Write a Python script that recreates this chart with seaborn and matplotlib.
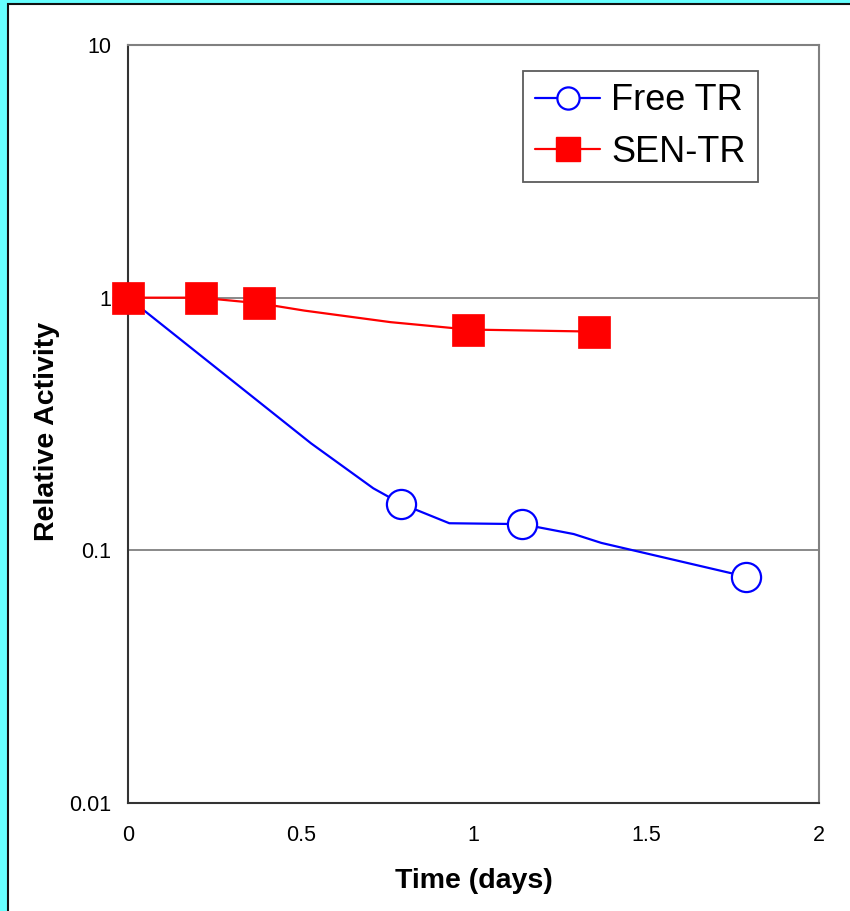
import numpy as np
import pandas as pd
import matplotlib
matplotlib.use("Agg")
import matplotlib.pyplot as plt
from matplotlib.lines import Line2D
from matplotlib.patches import Rectangle
import seaborn as sns

# Free TR: line vertices, markers only on the measured points
free_x = [0, 0.53, 0.71, 0.79, 0.93, 1.14, 1.29, 1.37, 1.79]
free_y = [1.0, 0.265, 0.176, 0.153, 0.128, 0.127, 0.116, 0.107, 0.0786]
free_marked = [0, 3, 5, 8]

# SEN-TR
sen_x = [0, 0.21, 0.38, 0.51, 0.76, 0.845, 0.984, 1.349]
sen_y = [1.0, 1.0, 0.95, 0.889, 0.80, 0.78, 0.748, 0.734]
sen_marked = [0, 1, 2, 6, 7]

x_ticks = [0, 0.5, 1, 1.5, 2]
x_tick_labels = ["0", "0.5", "1", "1.5", "2"]
y_ticks = [0.01, 0.1, 1, 10]
y_tick_labels = ["0.01", "0.1", "1", "10"]

free_df = pd.DataFrame({"Time": free_x, "Activity": free_y})
sen_df = pd.DataFrame({"Time": sen_x, "Activity": sen_y})

sns.set_style("white")
plt.rcParams["font.family"] = ["Liberation Sans", "DejaVu Sans"]
plt.rcParams["text.color"] = "black"
plt.rcParams["axes.labelcolor"] = "black"
plt.rcParams["xtick.labelcolor"] = "black"
plt.rcParams["ytick.labelcolor"] = "black"

fig = plt.figure(figsize=(8.5, 9.11), dpi=100)
fig.patch.set_facecolor("#66FFFF")
fig.patches.append(Rectangle((8 / 850, -0.05), 1.1, (911 - 4) / 911 + 0.05,
                             transform=fig.transFigure, facecolor="white",
                             edgecolor="#111111", linewidth=1.5, zorder=-10))

ax = fig.add_axes([128 / 850, 1 - 803 / 911, 691 / 850, 758 / 911])
ax.set_facecolor("white")
ax.set_yscale("log")

sns.lineplot(data=free_df, x="Time", y="Activity", ax=ax, color="#0000FF",
             linewidth=1.6, marker="o", markersize=21, markerfacecolor="white",
             markeredgecolor="#0000FF", markeredgewidth=1.6,
             markevery=free_marked, sort=False, estimator=None, clip_on=False, zorder=3)
sns.lineplot(data=sen_df, x="Time", y="Activity", ax=ax, color="#FF0000",
             linewidth=1.6, marker="s", markersize=23, markerfacecolor="#FF0000",
             markeredgecolor="#FF0000", markeredgewidth=0.5,
             markevery=sen_marked, sort=False, estimator=None, clip_on=False, zorder=4)

ax.set_xlim(0, 2)
ax.set_ylim(0.01, 10)
ax.set_xticks(x_ticks)
ax.set_xticklabels(x_tick_labels)
ax.set_yticks(y_ticks)
ax.set_yticklabels(y_tick_labels)
ax.minorticks_off()
ax.yaxis.set_minor_locator(matplotlib.ticker.NullLocator())

for yv in [0.1, 1]:
    ax.axhline(yv, color="#808080", linewidth=1.3, zorder=1)

for side in ["left", "bottom"]:
    ax.spines[side].set_color("#333333")
    ax.spines[side].set_linewidth(1.5)
for side in ["top", "right"]:
    ax.spines[side].set_color("#808080")
    ax.spines[side].set_linewidth(1.5)

ax.tick_params(axis="both", which="major", direction="out", length=6, width=1.2,
               color="#333333", labelcolor="black", labelsize=15.5, pad=6)
ax.tick_params(axis="x", pad=10)

ax.set_xlabel("Time (days)", fontsize=20.5, fontweight="bold", labelpad=16, color="black")
ax.set_ylabel("Relative Activity", fontsize=20.5, fontweight="bold", color="black")
ax.yaxis.set_label_coords(-0.098, 0.49)

handles = [
    Line2D([], [], color="#0000FF", linewidth=1.6, marker="o", markersize=16,
           markerfacecolor="white", markeredgecolor="#0000FF", markeredgewidth=1.6),
    Line2D([], [], color="#FF0000", linewidth=1.6, marker="s", markersize=17,
           markerfacecolor="#FF0000", markeredgecolor="#FF0000"),
]
leg = ax.legend(handles, ["Free TR", "SEN-TR"], loc="upper right",
                bbox_to_anchor=(0.912, 0.966), borderaxespad=0, fontsize=26,
                frameon=True, fancybox=False, edgecolor="#333333",
                handlelength=1.8, handletextpad=0.3, labelspacing=0.45,
                borderpad=0.35, labelcolor="black")
leg.get_frame().set_linewidth(1.3)
leg.set_zorder(10)

fig.savefig("out.png", dpi=100, facecolor=fig.get_facecolor())
